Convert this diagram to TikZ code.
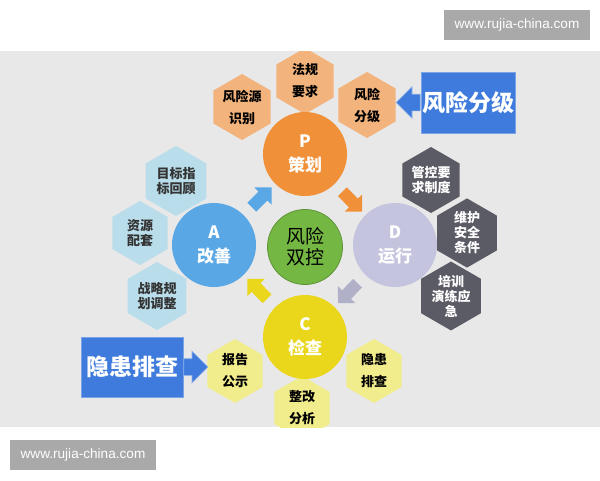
\documentclass[tikz,border=0pt]{standalone}
\usepackage{fontspec}
\setmainfont{Noto Sans CJK SC}
\newfontfamily\webfont{Liberation Sans}
\usetikzlibrary{shapes.geometric,shapes.arrows}
\definecolor{bandgray}{HTML}{E8E8E8}
\definecolor{markgray}{HTML}{A9A9A9}
\definecolor{porange}{HTML}{F0913A}
\definecolor{hexorange}{HTML}{F2B37C}
\definecolor{ablue}{HTML}{5AA7E5}
\definecolor{hexblue}{HTML}{B9DDEB}
\definecolor{dlilac}{HTML}{C4C4DF}
\definecolor{hexdark}{HTML}{5B5B66}
\definecolor{cyellow}{HTML}{EAD61B}
\definecolor{hexyellow}{HTML}{F1EC8C}
\definecolor{ctrgreen}{HTML}{74B843}
\definecolor{boxblue}{HTML}{3F7BDC}

\begin{document}
\begin{tikzpicture}[x=1pt,y=-1pt,
	hexa/.style={regular polygon, regular polygon sides=6, shape border rotate=30,
		minimum size=66pt, inner sep=0pt, align=center},
	hexo/.style={hexa, fill=hexorange, font=\bfseries\fontsize{13}{22}\selectfont},
	hexb/.style={hexa, fill=hexblue, text=black!80, font=\bfseries\fontsize{13}{15}\selectfont},
	hexd/.style={hexa, fill=hexdark, text=white, font=\bfseries\fontsize{13}{15}\selectfont},
	hexy/.style={hexa, fill=hexyellow, font=\bfseries\fontsize{13}{22}\selectfont},
	ring/.style={circle, minimum size=84pt, inner sep=0pt, align=center, text=white,
		font=\bfseries\fontsize{17}{24}\selectfont},
	cyc/.style={single arrow, minimum height=28pt, inner xsep=0pt, inner ysep=6pt,
		single arrow head extend=6pt, sloped, allow upside down},
	bigbox/.style={rectangle, fill=boxblue, draw=boxblue!70!white, line width=1pt,
		text=white, inner sep=0pt, font=\bfseries\fontsize{23}{23}\selectfont},
	bigarrow/.style={single arrow, fill=boxblue, draw=boxblue!60!white, line width=0.6pt,
		minimum height=24pt, inner xsep=0pt, inner ysep=8pt, single arrow head extend=7.5pt},
	wmbox/.style={fill=markgray, text=white, minimum width=146pt, minimum height=30pt,
		inner sep=0pt, font=\webfont\fontsize{13.6}{14}\selectfont}]
	\useasboundingbox (0,0) rectangle (600,480);
	\fill[bandgray] (0,51) rectangle (600,427);

	\begin{scope}
	\clip (0,51) rectangle (600,427);
	\node[hexo] (fagui) at (305,81) {法规\\要求};
	\node[hexo] (fxyuan) at (242,107) {风险源\\识别};
	\node[hexo] (fxfj) at (367,105) {风险\\分级};

	\node[hexb, minimum size=70pt] (mubiao) at (176,181) {目标指\\标回顾};
	\node[hexb, minimum size=64pt] (ziyuan) at (140,233) {资源\\配套};
	\node[hexb, minimum size=68pt] (zhanlue) at (157,296) {战略规\\划调整};

	\node[hexd] (guankong) at (431,180) {管控要\\求制度};
	\node[hexd, minimum size=64pt] (weihu) at (467,233) {维护\\安全\\条件};
	\node[hexd, minimum size=65pt] (peixun) at (451,296) {培训\\演练应\\急};

	\node[hexy, minimum size=64pt] (baogao) at (235,371) {报告\\公示};
	\node[hexy, minimum size=64pt] (zhenggai) at (302,408) {整改\\分析};
	\node[hexy, minimum size=64pt] (yinhuan) at (374,371) {隐患\\排查};

	\node[ring, fill=porange] (P) at (305,154) {P\\策划};
	\node[ring, fill=ablue] (A) at (214,245) {A\\改善};
	\node[ring, fill=dlilac] (D) at (395,245) {D\\运行};
	\node[ring, fill=cyellow] (C) at (305,337) {C\\检查};
	\node[circle, minimum size=75pt, inner sep=0pt, fill=ctrgreen, draw=ctrgreen!80!black,
		line width=0.8pt, align=center, font=\fontsize{19}{21}\selectfont] (ctr) at (305,247) {风险\\双控};

	\path (A) -- node[cyc, fill=ablue] (arAP) {} (P);
	\path (P) -- node[cyc, fill=porange] (arPD) {} (D);
	\path (D) -- node[cyc, fill=dlilac!90!black] (arDC) {} (C);
	\path (C) -- node[cyc, fill=cyellow] (arCA) {} (A);

	\node[bigbox, minimum width=94pt, minimum height=61pt] (fjbox) at (468,102.5) {风险分级};
	\node[bigbox, minimum width=102pt, minimum height=60pt] (pcbox) at (132,367) {隐患排查};
	\node[bigarrow, rotate=180, anchor=tail] (fjarrow) at (fjbox.west) {};
	\node[bigarrow, anchor=tail] (pcarrow) at (pcbox.east) {};
	\end{scope}

	\node[wmbox] (wmtop) at (517,25) {www.rujia-china.com};
	\node[wmbox] (wmbot) at (83,455) {www.rujia-china.com};
\end{tikzpicture}
\end{document}
